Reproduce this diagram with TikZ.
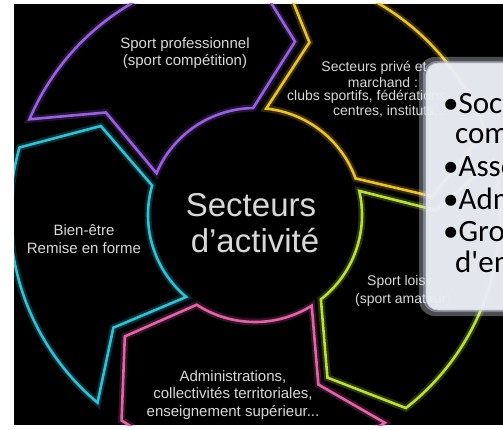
\documentclass[tikz,border=0pt]{standalone}
\usepackage{fontspec}
\setmainfont{Liberation Sans}
\newfontfamily\boxfont{Carlito}
\definecolor{segpurple}{HTML}{9A5EE4}
\definecolor{segyellow}{HTML}{F0C21C}
\definecolor{seggreen}{HTML}{B9E02C}
\definecolor{segpink}{HTML}{E562A8}
\definecolor{segcyan}{HTML}{2CC3D8}
\definecolor{labelgray}{HTML}{D8D8D8}
\definecolor{boxfill}{HTML}{ECEEF6}
\definecolor{boxedge}{HTML}{C2C7DE}
\newcommand{\drawseg}[3]{%
  \draw[segglow=#3] (#1:245pt) arc[start angle=#1, end angle=#2, radius=245pt] -- ({#2-14}:178pt) -- (#2:107pt) arc[start angle=#2, end angle=#1, radius=107pt] -- ({#1-11.5}:181pt) -- cycle;
  \draw[segline=#3] (#1:245pt) arc[start angle=#1, end angle=#2, radius=245pt] -- ({#2-14}:178pt) -- (#2:107pt) arc[start angle=#2, end angle=#1, radius=107pt] -- ({#1-11.5}:181pt) -- cycle;
}
\begin{document}
\begin{tikzpicture}[x=1pt,y=1pt,
  segglow/.style={draw=#1, line width=7pt, draw opacity=0.22, line join=miter},
  segline/.style={draw=#1, line width=2.6pt, line join=miter},
  lbl/.style={text=labelgray, font=\fontsize{15}{17.5}\selectfont, inner sep=0pt, align=center},
  lblline/.style={text=labelgray, font=\fontsize{14}{15}\selectfont, inner sep=0pt},
  centertxt/.style={text=labelgray, font=\fontsize{33}{40}\selectfont, inner sep=0pt},
  boxtxt/.style={text=black, font=\boxfont\fontsize{31}{33}\selectfont, inner sep=0pt, anchor=base west}]
\useasboundingbox (0,0) rectangle (503,429);
\fill[white] (0,0) rectangle (503,429);
\fill[black] (14,4) rectangle (503,425);
\begin{scope}
  \clip (14,4) rectangle (503,425);
  \begin{scope}[shift={(255,214)}]
    \drawseg{157}{91}{segpurple}
    \drawseg{84}{20}{segyellow}
    \drawseg{13}{-52}{seggreen}
    \drawseg{-58}{-123}{segpink}
    \drawseg{230}{164}{segcyan}
  \end{scope}
  % labels
  \node[lbl] (pro) at (185,376) {Sport professionnel\\(sport compétition)};
  \node[lblline, anchor=center] (priv1) at (374,361) {Secteurs privé et};
  \node[lblline, anchor=center] (priv2) at (383,347) {marchand :};
  \node[lblline, anchor=west] (priv3) at (287,332) {clubs sportifs, fédérations,};
  \node[lblline, anchor=west] (priv4) at (333,318) {centres, instituts...};
  \node[lbl] (bien) at (84,190) {Bien-être\\Remise en forme};
  \node[lblline, anchor=west] (loisir1) at (367,147) {Sport loisir};
  \node[lblline, anchor=west] (loisir2) at (355,129) {(sport amateur)};
  \node[lbl] (admin) at (233,34) {Administrations,\\collectivités territoriales,\\enseignement supérieur...};
  \node[centertxt] (ct1) at (251,224) {Secteurs};
  \node[centertxt] (ct2) at (255,188) {d'activité};
  % overlay box
  \fill[white, opacity=0.3, rounded corners=16pt] (419,113) rectangle (530,372);
  \fill[boxedge, opacity=0.45, rounded corners=14pt] (423,117) rectangle (530,368);
  \draw[boxedge, fill=boxfill, fill opacity=0.93, line width=0.8pt, rounded corners=12pt] (426,119) rectangle (530,366);
  \node[boxtxt] (b1) at (443,315) {•Sociétés};
  \node[boxtxt] (b1b) at (455,285) {commerciales};
  \node[boxtxt] (b2) at (443,252) {•Associations};
  \node[boxtxt] (b3) at (443,220) {•Administrations};
  \node[boxtxt] (b4) at (443,188) {•Groupements};
  \node[boxtxt] (b4b) at (455,157) {d'employeurs};
\end{scope}
\end{tikzpicture}
\end{document}
